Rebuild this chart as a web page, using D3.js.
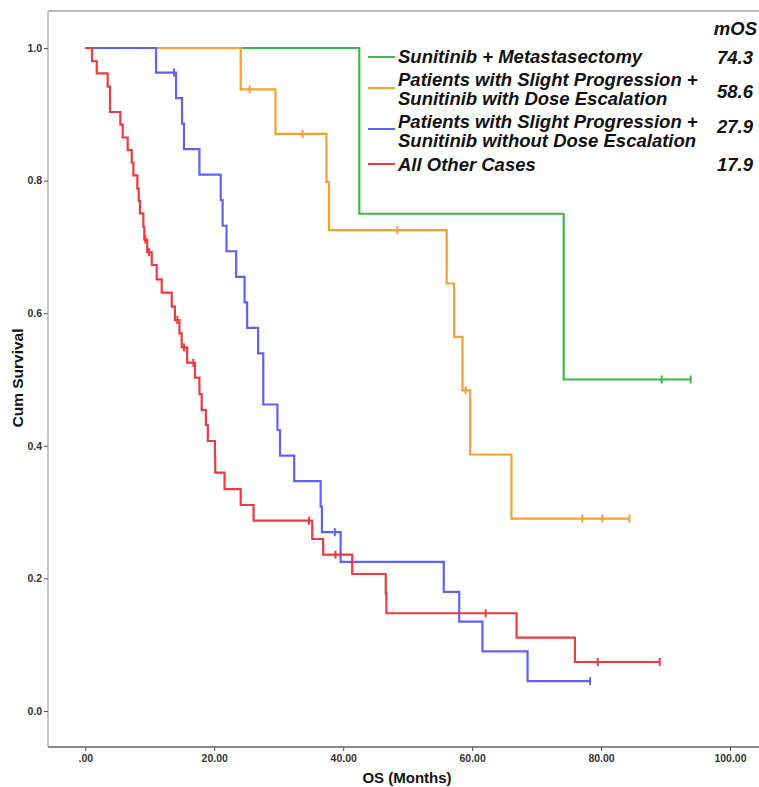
<!DOCTYPE html>
<html lang="en">
<head>
<meta charset="UTF-8">
<title>Cum Survival by OS</title>
<script src="https://d3js.org/d3.v7.min.js"></script>
<style>
  body { margin: 0; background: #fff; }
  svg { display: block; font-family: "Liberation Sans", Arial, sans-serif; }
</style>
</head>
<body>
<div id="chart"></div>
<script>
// ---- data ----
var groupNames = ["Sunitinib + Metastasectomy",
                  "Patients with Slight Progression +|Sunitinib with Dose Escalation",
                  "Patients with Slight Progression +|Sunitinib without Dose Escalation",
                  "All Other Cases"];
var mOS = ["74.3", "58.6", "27.9", "17.9"];
var colors = ["#3db848", "#f9a02c", "#6060fa", "#f03a3e"];

// step times (months) and survival after each step
var greenTimes = [42.5, 74.2];
var greenSurv  = [0.75, 0.50];
var greenCens  = [89.4, 93.9];

var orangeTimes = [24.1, 29.5, 37.4, 37.8, 56.05, 57.2, 58.5, 59.7, 66.1];
var orangeSurv  = [0.9375, 0.8705, 0.798, 0.7254, 0.6448, 0.5642, 0.4836, 0.3869, 0.2902];
var orangeCens  = [25.5, 33.7, 48.4, 59.0, 77.1, 80.2, 84.4];

var blueTimes = [10.97, 14.07, 15.0, 15.3, 17.7, 21.0, 21.3, 21.9, 23.4, 24.7, 25.1, 26.8,
                 27.6, 29.8, 30.2, 32.4, 36.5, 36.7, 39.6, 55.6, 58.0, 61.6, 68.6];
var blueSurv  = [0.963, 0.9244, 0.8859, 0.8474, 0.8089, 0.7704, 0.7319, 0.6934, 0.6549, 0.6164, 0.5779, 0.5394,
                 0.4623, 0.4238, 0.3853, 0.3468, 0.3083, 0.2697, 0.2248, 0.1798, 0.1349, 0.0899, 0.045];
var blueCens  = [13.76, 38.7, 78.3];

var redTimes = [1.04, 1.77, 3.47, 3.83, 5.43, 5.8, 6.57, 7.2, 7.45, 8.07, 8.28, 8.48, 9.0, 9.15, 9.6,
                10.3, 11.07, 11.85, 13.4, 13.9, 14.6, 14.95, 15.8, 17.0, 17.7, 18.05, 18.7, 19.0,
                20.1, 20.15, 21.6, 24.1, 26.1, 35.2, 36.9, 41.4, 46.6, 46.7, 66.9, 75.95];
var redSurv  = [0.980, 0.9618, 0.9417, 0.9035, 0.8845, 0.865, 0.846, 0.827, 0.808, 0.788, 0.769, 0.7507, 0.730, 0.711, 0.692,
                0.6727, 0.651, 0.631, 0.6098, 0.5897, 0.5697, 0.5485, 0.5253, 0.5027, 0.478, 0.454, 0.4314, 0.4072,
                0.3836, 0.3594, 0.3348, 0.3107, 0.287, 0.2594, 0.2358, 0.2066, 0.1775, 0.1474, 0.1106, 0.0739];
var redCens  = [9.3, 9.88, 14.27, 15.3, 16.75, 34.7, 38.8, 62.1, 79.5, 89.1];

var xTicks = [0, 20, 40, 60, 80, 100];
var xTickLabels = [".00", "20.00", "40.00", "60.00", "80.00", "100.00"];
var yTicks = [0, 0.2, 0.4, 0.6, 0.8, 1.0];
var yTickLabels = ["0.0", "0.2", "0.4", "0.6", "0.8", "1.0"];

var groups = [
  {times: greenTimes,  surv: greenSurv,  cens: greenCens},
  {times: orangeTimes, surv: orangeSurv, cens: orangeCens},
  {times: blueTimes,   surv: blueSurv,   cens: blueCens},
  {times: redTimes,    surv: redSurv,    cens: redCens}
];

// ---- layout ----
var W = 759, H = 787;
var margin = {left: 48, top: 11, right: 759, bottom: 747};

var svg = d3.select("#chart").append("svg")
  .attr("width", W).attr("height", H);

var x = d3.scaleLinear().domain([-5.79, 104.5]).range([margin.left, margin.right]);
var y = d3.scaleLinear().domain([-0.0543, 1.0558]).range([margin.bottom, margin.top]);

// frame lines
svg.append("line").attr("x1", margin.left).attr("x2", margin.right)
  .attr("y1", margin.top).attr("y2", margin.top)
  .attr("stroke", "#a3a3a3").attr("stroke-width", 1.5);
svg.append("line").attr("x1", margin.left).attr("x2", margin.left)
  .attr("y1", margin.top).attr("y2", margin.bottom)
  .attr("stroke", "#c6c6c6").attr("stroke-width", 2);

// x axis
var xAxis = svg.append("g")
  .attr("transform", "translate(0," + margin.bottom + ")")
  .call(d3.axisBottom(x).tickValues(xTicks).tickSize(4).tickPadding(4)
        .tickFormat(function(d, i) { return xTickLabels[i]; }));
xAxis.select(".domain").attr("d", "M" + margin.left + ",0H" + margin.right)
  .attr("stroke", "#8a8a8a").attr("stroke-width", 2);
xAxis.selectAll(".tick line").attr("stroke", "#555");
xAxis.selectAll("text").style("font-size", "10.5px").style("font-weight", "bold")
  .attr("fill", "#333").attr("font-family", "\"Liberation Sans\", Arial, sans-serif");

// y axis
var yAxis = svg.append("g")
  .attr("transform", "translate(" + margin.left + ",0)")
  .call(d3.axisLeft(y).tickValues(yTicks).tickSize(4).tickPadding(2)
        .tickFormat(function(d, i) { return yTickLabels[i]; }));
yAxis.select(".domain").remove();
yAxis.selectAll(".tick line").attr("stroke", "#555");
yAxis.selectAll("text").style("font-size", "10.5px").style("font-weight", "bold")
  .attr("fill", "#333").attr("font-family", "\"Liberation Sans\", Arial, sans-serif");

// axis titles
svg.append("text")
  .attr("x", 407).attr("y", 783)
  .attr("text-anchor", "middle")
  .style("font-size", "15px").style("font-weight", "bold").attr("fill", "#111")
  .text("OS (Months)");
svg.append("text")
  .attr("transform", "translate(23,378) rotate(-90)")
  .attr("text-anchor", "middle")
  .style("font-size", "15.5px").style("font-weight", "bold").attr("fill", "#111")
  .text("Cum Survival");

// survival curves
var line = d3.line()
  .x(function(d) { return x(d[0]); })
  .y(function(d) { return y(d[1]); })
  .curve(d3.curveStepAfter);

function survAt(g, t) {
  var s = 1;
  for (var i = 0; i < g.times.length; i++) { if (g.times[i] <= t) s = g.surv[i]; }
  return s;
}

// draw in SPSS order so red ends up on top
groups.forEach(function(g, gi) {
  var pts = [[0, 1]];
  g.times.forEach(function(t, i) { pts.push([t, g.surv[i]]); });
  var tEnd = Math.max(d3.max(g.times), d3.max(g.cens));
  pts.push([tEnd, g.surv[g.surv.length - 1]]);

  svg.append("path")
    .datum(pts)
    .attr("d", line)
    .attr("fill", "none")
    .attr("stroke", colors[gi])
    .attr("stroke-width", 2.2);

  svg.selectAll(".cens" + gi)
    .data(g.cens)
    .enter().append("line")
    .attr("class", "cens" + gi)
    .attr("x1", function(d) { return x(d); })
    .attr("x2", function(d) { return x(d); })
    .attr("y1", function(d) { return y(survAt(g, d)) - 4; })
    .attr("y2", function(d) { return y(survAt(g, d)) + 4; })
    .attr("stroke", colors[gi])
    .attr("stroke-width", 2);
});

// legend
var legendLineY = [57, 88, 129, 164];
var legendTextY = [[63], [86, 105], [128, 147], [171]];
var mosY = [64, 98, 133, 171];

var legend = svg.append("g");
legend.append("text")
  .attr("x", 757).attr("y", 35).attr("text-anchor", "end")
  .style("font-size", "18.5px").style("font-weight", "bold").style("font-style", "italic")
  .attr("fill", "#111").text("mOS");

groupNames.forEach(function(name, i) {
  legend.append("line")
    .attr("x1", 368).attr("x2", 395)
    .attr("y1", legendLineY[i]).attr("y2", legendLineY[i])
    .attr("stroke", colors[i]).attr("stroke-width", 2);
  name.split("|").forEach(function(part, j) {
    legend.append("text")
      .attr("x", 398).attr("y", legendTextY[i][j])
      .style("font-size", "18.5px").style("font-weight", "bold").style("font-style", "italic")
      .attr("fill", "#111").text(part);
  });
  legend.append("text")
    .attr("x", 753).attr("y", mosY[i]).attr("text-anchor", "end")
    .style("font-size", "18.5px").style("font-weight", "bold").style("font-style", "italic")
    .attr("fill", "#111").text(mOS[i]);
});
</script>
</body>
</html>
